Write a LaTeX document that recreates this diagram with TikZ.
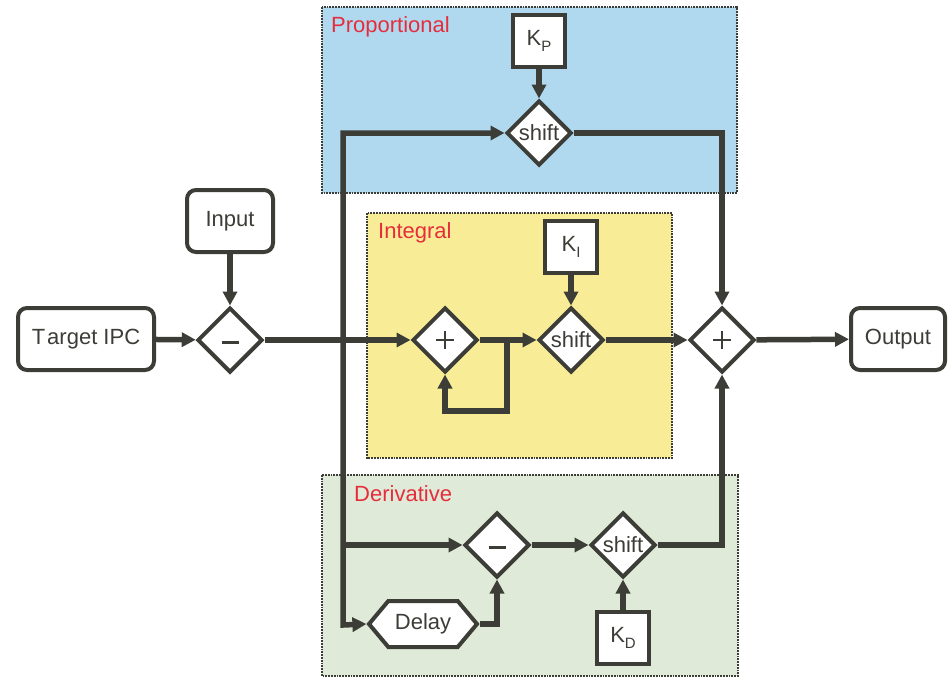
\documentclass[tikz,border=0pt]{standalone}
\usepackage{fontspec}
\setmainfont{Liberation Sans}
\usetikzlibrary{shapes.geometric,shapes.symbols,arrows.meta}
\definecolor{ln}{RGB}{61,61,56}
\definecolor{pblue}{RGB}{176,217,240}
\definecolor{iyellow}{RGB}{248,237,150}
\definecolor{dgreen}{RGB}{223,235,216}
\definecolor{lblred}{RGB}{230,45,60}
\newcommand{\sbs}[1]{\raisebox{-0.45ex}{\fontsize{15}{15}\selectfont #1}}
\begin{document}
\begin{tikzpicture}[x=1pt,y=-1pt,
  font=\fontsize{22}{26}\selectfont, text=ln,
  region/.style={draw=ln, densely dotted, line width=1.8pt},
  rlabel/.style={anchor=west, text=lblred, inner sep=0pt},
  rbox/.style={draw=ln, fill=white, line width=4pt, rounded corners=9pt, inner sep=0pt},
  kbox/.style={draw=ln, fill=white, line width=4pt, inner sep=0pt, minimum width=52pt, minimum height=52pt},
  dmd/.style={diamond, aspect=1, draw=ln, fill=white, line width=4pt, inner sep=0pt, minimum width=65pt, minimum height=65pt},
  hexbox/.style={signal, signal to=east and west, signal pointer angle=100, draw=ln, fill=white, line width=4pt, inner sep=0pt, minimum width=108pt, minimum height=46pt},
  line/.style={draw=ln, line width=5.5pt},
  conn/.style={line, -{Triangle[length=14pt,width=14pt]}},
  plussign/.style={path picture={\draw[ln, line width=1.4pt]
     ([xshift=-9pt]path picture bounding box.center) -- ([xshift=9pt]path picture bounding box.center)
     ([yshift=-9pt]path picture bounding box.center) -- ([yshift=9pt]path picture bounding box.center);}},
  minussign/.style={path picture={\draw[ln, line width=3pt]
     ([xshift=-8.5pt,yshift=-2pt]path picture bounding box.center) -- ([xshift=8.5pt,yshift=-2pt]path picture bounding box.center);}}
]
\useasboundingbox (0,0) rectangle (949,677);
% regions
\fill[pblue] (322,7) rectangle (737,193);
\draw[region] (322,7) rectangle (737,193);
\fill[iyellow] (367,213) rectangle (672,458);
\draw[region] (367,213) rectangle (672,458);
\fill[dgreen] (322,475) rectangle (738,676);
\draw[region] (322,475) rectangle (738,676);
\node[rlabel] (lp) at (331,27) {Proportional};
\node[rlabel] (li) at (378,233) {Integral};
\node[rlabel] (ld) at (354,494) {Derivative};

% coordinates
\coordinate (vbot) at (343,625);
\coordinate (vmid) at (343,545);
\coordinate (loopj) at (507,340);
\coordinate (loopb) at (507,411);

% nodes
\node[rbox, minimum width=136pt, minimum height=62pt] (target) at (86,339) {T\kern2pt arget IPC};
\node[rbox, minimum width=86pt, minimum height=62pt] (input) at (230,221) {Input};
\node[rbox, minimum width=94pt, minimum height=62pt] (output) at (898,339) {Output};
\node[dmd, minussign] (minus1) at (230,340) {};
\node[dmd, plussign] (plusI) at (445,340) {};
\node[dmd] (shiftI) at (571,340) {shift};
\node[dmd, plussign] (plusF) at (722,340) {};
\node[dmd] (shiftP) at (539,133) {shift};
\node[dmd, minussign] (minusD) at (497,545) {};
\node[dmd] (shiftD) at (623,545) {shift};
\node[kbox] (kp) at (539,41) {K\sbs{P}};
\node[kbox] (ki) at (571,247) {K\sbs{I}};
\node[kbox] (kd) at (623,638) {K\sbs{D}};
\node[hexbox] (delay) at (423,624) {Delay};

% connectors
\draw[conn] (target) -- (minus1);
\draw[conn] (input) -- (minus1);
\draw[conn] (minus1) -- (plusI);
\draw[conn] (plusI) -- (shiftI);
\draw[conn] (loopj) -- (loopb) -| (plusI.south);
\draw[conn] (ki) -- (shiftI);
\draw[conn] (shiftI) -- (plusF);
\draw[conn] (plusF) -- (output);
\draw[conn] (kp) -- (shiftP);
\draw[line, {Triangle[length=14pt,width=14pt]}-{Triangle[length=14pt,width=14pt]}] (shiftP.west) -| (vbot) -- (delay.west);
\draw[conn] (shiftP.east) -| (plusF.north);
\draw[conn] (vmid) -- (minusD);
\draw[conn] (delay.east) -| (minusD.south);
\draw[conn] (minusD) -- (shiftD);
\draw[conn] (kd) -- (shiftD);
\draw[conn] (shiftD.east) -| (plusF.south);
\end{tikzpicture}
\end{document}
